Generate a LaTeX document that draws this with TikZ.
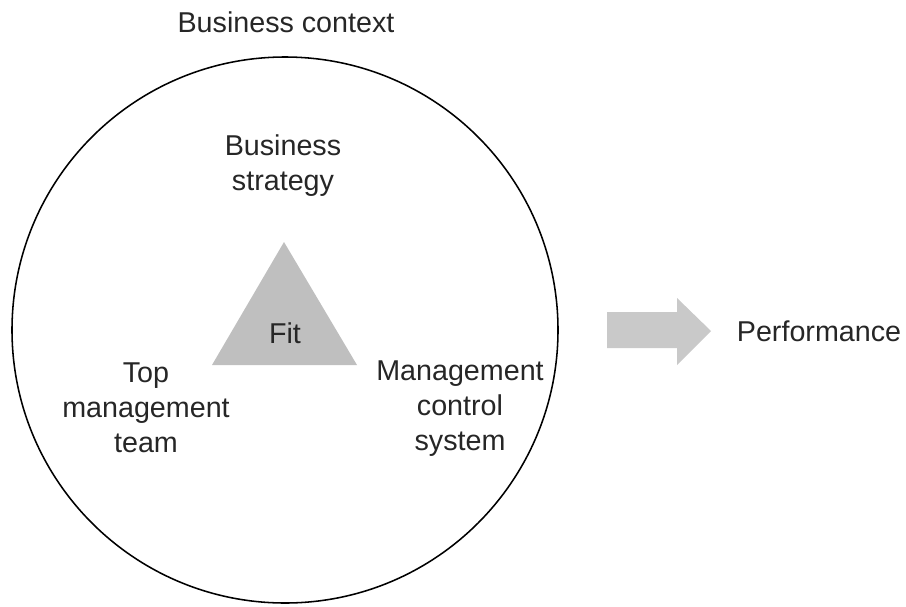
\documentclass[tikz,border=0pt]{standalone}
\usepackage{fontspec}
\setmainfont{Liberation Sans}
\usepackage{tikz}
\usetikzlibrary{positioning,shapes,arrows}

\begin{document}
\begin{tikzpicture}[x=0.025cm, y=-0.025cm,
  mylabel/.style = {text=black!85, align=center, font=\fontsize{20.4}{24.9}\selectfont, inner sep=0pt},
  myshape/.style = {fill=black!25, draw=none}]
\useasboundingbox (0,0) rectangle (906,606);
% outer circle
\draw[black, line width=1.1pt] (285,330) circle (273);
\node[mylabel] (context) at (286,22) {Business context};
% triangle in the middle
\coordinate (apex) at (284,242);
\coordinate (left) at (212,365);
\coordinate (right) at (357,365);
\fill[myshape] (apex) -- (left) -- (right) -- cycle;
\node[mylabel] (fit) at (285,333) {Fit};
\node[mylabel] (strategy) at (283,166) {Business\\strategy};
\node[mylabel] (team) at (146,408) {Top\\management\\team};
\node[mylabel] (mcs) at (460,409) {Management\\control\\system};
% block arrow
\fill[black!21] (607,312) -- (677,312) -- (677,298) -- (711,331) -- (677,365) -- (677,348) -- (607,348) -- cycle;
\node[mylabel] (perf) at (819,331) {Performance};
\end{tikzpicture}
\end{document}
